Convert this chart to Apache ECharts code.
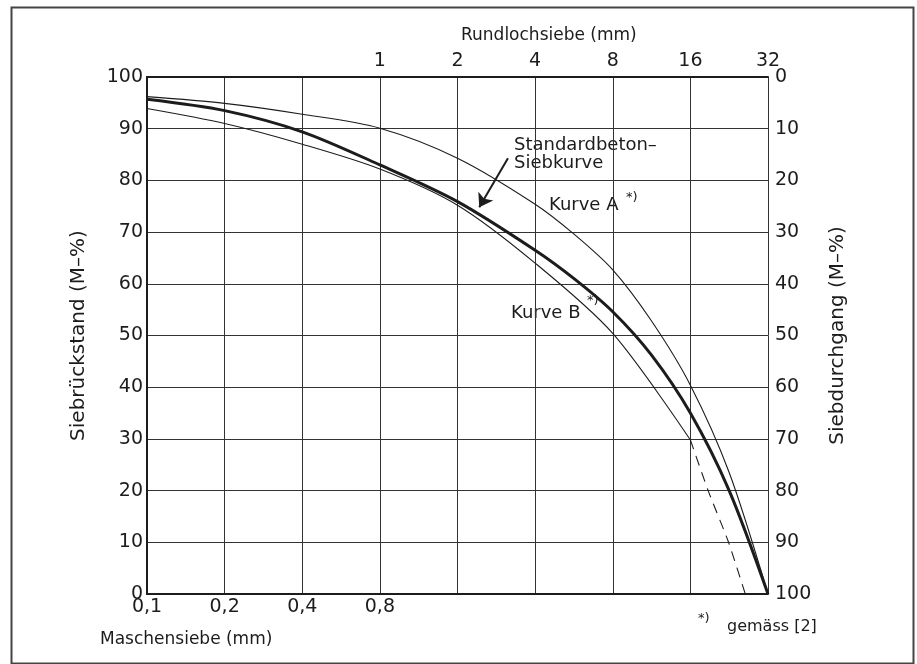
<!DOCTYPE html>
<html><head><meta charset="utf-8">
<script src="https://cdn.jsdelivr.net/npm/echarts@6/dist/echarts.min.js"></script>
<style>html,body{margin:0;padding:0;background:#fff}#c{width:917px;height:664px}</style>
</head><body><div id="c"></div>
<script>
// Tick labels
const bottomTickLabels = ['0,1', '0,2', '0,4', '0,8'];          // Maschensiebe, steps 0..3
const topTickLabels = ['1', '2', '4', '8', '16', '32'];          // Rundlochsiebe, steps 3..8
const topTickStart = 3;
const baseMesh = 0.1; // mm at left edge

// Standardbeton-Siebkurve (mesh size mm, Siebrückstand %)
const meshStd = [0.1, 0.2, 0.4, 0.8, 1.6, 3.2, 4.53, 6.4, 9.05, 12.8, 18.1, 25.6];
const valStd  = [95.7, 93.5, 89.4, 83.0, 75.9, 66.5, 61.0, 54.6, 46.2, 35.0, 20, 0];

// Kurve A
const meshA = [0.1, 0.2, 0.4, 0.8, 1.6, 3.2, 4.53, 6.4, 9.05, 12.8, 18.1, 25.6];
const valA  = [96.2, 94.9, 92.8, 90.1, 84.3, 75.4, 69.6, 62.7, 52.8, 40.4, 23.5, 0];

// Kurve B (solid part)
const meshB = [0.1, 0.2, 0.4, 0.8, 1.6, 3.2, 6.4, 12.8];
const valB  = [93.9, 91.0, 87.0, 82.2, 75.2, 64.0, 50.4, 29.8];
// Kurve B (dashed continuation)
const meshBd = [12.8, 15.0, 18.0, 20.9];
const valBd  = [29.8, 20, 10, 0];

function step(mm) { return Math.log2(mm / baseMesh); }
function pairs(mm, v) { return mm.map((m, i) => [step(m), v[i]]); }

const FONT = 'DejaVu Sans';
const INK = '#1c1c1c';

const chart = echarts.init(document.getElementById('c'));
chart.setOption({
  backgroundColor: '#fff',
  animation: false,
  textStyle: { fontFamily: FONT, color: INK },
  grid: { left: 147, right: 149, top: 77, bottom: 70 },
  xAxis: [
    {
      type: 'value', position: 'bottom', min: 0, max: 8, interval: 1,
      axisLine: { show: true, lineStyle: { color: INK, width: 2 } },
      axisTick: { show: false },
      splitLine: { show: true, lineStyle: { color: '#333', width: 1 } },
      axisLabel: {
        fontFamily: FONT, fontSize: 19, color: INK, margin: 4,
        formatter: v => (v < bottomTickLabels.length ? bottomTickLabels[v] : '')
      }
    },
    {
      type: 'value', position: 'top', min: 0, max: 8, interval: 1,
      axisLine: { show: true, lineStyle: { color: INK, width: 2 } },
      axisTick: { show: false },
      splitLine: { show: false },
      axisLabel: {
        fontFamily: FONT, fontSize: 19, color: INK, margin: 6,
        formatter: v => (v >= topTickStart ? topTickLabels[v - topTickStart] : '')
      }
    }
  ],
  yAxis: [
    {
      type: 'value', position: 'left', min: 0, max: 100, interval: 10,
      name: 'Siebrückstand (M–%)', nameLocation: 'middle', nameGap: 58,
      nameTextStyle: { fontFamily: FONT, fontSize: 20, color: INK },
      axisLine: { show: true, lineStyle: { color: INK, width: 2 } },
      axisTick: { show: false },
      splitLine: { show: true, lineStyle: { color: '#333', width: 1 } },
      axisLabel: { fontFamily: FONT, fontSize: 19, color: INK, margin: 4 }
    },
    {
      type: 'value', position: 'right', min: 0, max: 100, interval: 10, inverse: true,
      name: 'Siebdurchgang (M–%)', nameLocation: 'middle', nameGap: 60,
      nameTextStyle: { fontFamily: FONT, fontSize: 20, color: INK },
      axisLine: { show: true, lineStyle: { color: INK, width: 2 } },
      axisTick: { show: false },
      splitLine: { show: false },
      axisLabel: { fontFamily: FONT, fontSize: 19, color: INK, margin: 7 }
    }
  ],
  series: [
    {
      name: 'Kurve A', type: 'line', data: pairs(meshA, valA), smooth: 0.3,
      symbol: 'none', lineStyle: { color: INK, width: 1.1 }
    },
    {
      name: 'Kurve B', type: 'line', data: pairs(meshB, valB), smooth: 0.3,
      symbol: 'none', lineStyle: { color: INK, width: 1.1 }
    },
    {
      name: 'Kurve B (Fortsetzung)', type: 'line', data: pairs(meshBd, valBd), smooth: 0.2,
      symbol: 'none', lineStyle: { color: INK, width: 1.1, type: [10, 7] }
    },
    {
      name: 'Standardbeton-Siebkurve', type: 'line', data: pairs(meshStd, valStd), smooth: 0.3,
      symbol: 'none', lineStyle: { color: INK, width: 3 },
      markLine: {
        silent: true, symbol: ['none', 'arrow'], symbolSize: 13,
        lineStyle: { color: INK, width: 2, type: 'solid' }, label: { show: false },
        data: [[{ coord: [4.65, 84.3] }, { coord: [4.28, 74.8] }]]
      }
    }
  ],
  graphic: [
    { type: 'rect', left: 9, top: 5, shape: { width: 902, height: 656 },
      style: { fill: 'none', stroke: '#444', lineWidth: 2 }, z: -1 },
    { type: 'text', left: 461, top: 27, style: { text: 'Rundlochsiebe (mm)', font: '17px "DejaVu Sans"', fill: INK } },
    { type: 'text', left: 100, top: 631, style: { text: 'Maschensiebe (mm)', font: '17px "DejaVu Sans"', fill: INK } },
    { type: 'text', left: 514, top: 136, style: { text: 'Standardbeton–\nSiebkurve', font: '18px "DejaVu Sans"', fill: INK, lineHeight: 18 } },
    { type: 'text', left: 549, top: 196, style: { text: 'Kurve A', font: '18px "DejaVu Sans"', fill: INK } },
    { type: 'text', left: 626, top: 191, style: { text: '*)', font: '13px "DejaVu Sans"', fill: INK } },
    { type: 'text', left: 511, top: 304, style: { text: 'Kurve B', font: '18px "DejaVu Sans"', fill: INK } },
    { type: 'text', left: 587, top: 294, style: { text: '*)', font: '13px "DejaVu Sans"', fill: INK } },
    { type: 'text', left: 698, top: 612, style: { text: '*)', font: '13px "DejaVu Sans"', fill: INK } },
    { type: 'text', left: 727, top: 619, style: { text: 'gemäss [2]', font: '16px "DejaVu Sans"', fill: INK } }
  ]
});
</script>
</body></html>
